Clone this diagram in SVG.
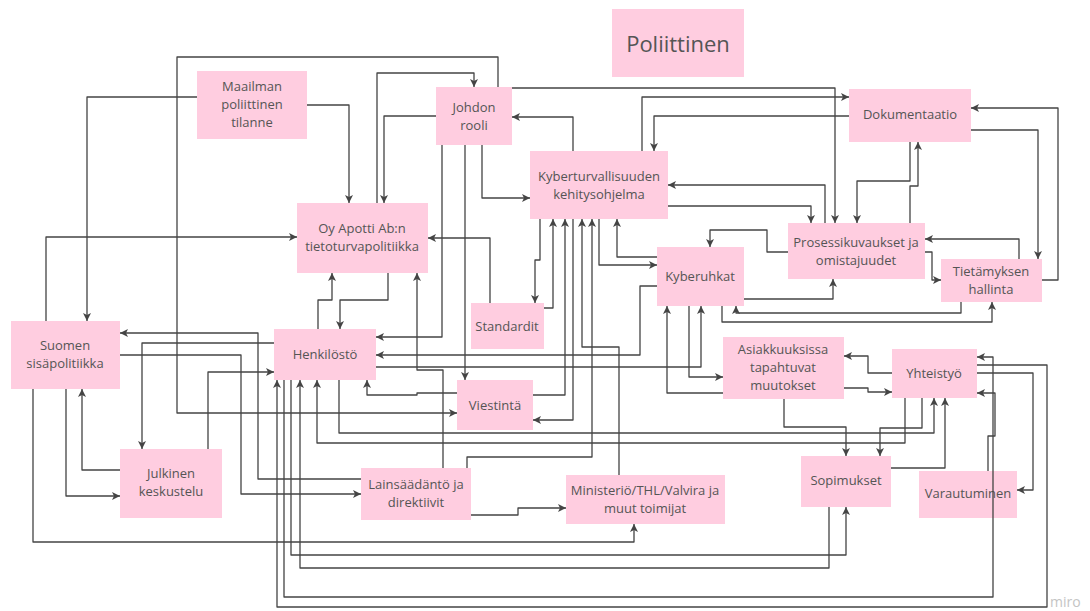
<svg xmlns="http://www.w3.org/2000/svg" width="1090" height="611" viewBox="0 0 1090 611">
  <style>
    .box { fill: #ffcde0; }
    .lbl { font-family: "Open Sans", "Liberation Sans", sans-serif; font-size: 13px; fill: #555; text-anchor: middle; dominant-baseline: central; }
    .title { font-size: 22px; }
    .c { fill: none; stroke: #444; stroke-width: 1.3; stroke-linejoin: round; }
    .a { marker-end: url(#ah); }
    .wm { font-family: "Open Sans", "Liberation Sans", sans-serif; font-size: 14px; fill: #c4c4c4; }
  </style>
  <defs>
    <marker id="ah" viewBox="0 0 10 10" refX="10" refY="5" markerWidth="8" markerHeight="8" markerUnits="userSpaceOnUse" orient="auto">
      <path d="M0,0 L10,5 L0,10 L2.5,5 z" fill="#444"/>
    </marker>
  </defs>
  <rect width="1090" height="611" fill="#ffffff"/>

  <!-- nodes -->
  <g id="poliittinen">
    <rect class="box" x="612" y="9" width="132" height="68"/>
    <text class="lbl title" x="678" y="43">Poliittinen</text>
  </g>
  <g id="maailman">
    <rect class="box" x="197" y="71" width="110" height="68"/>
    <text class="lbl" x="252" y="86">Maailman</text>
    <text class="lbl" x="252" y="104">poliittinen</text>
    <text class="lbl" x="252" y="122">tilanne</text>
  </g>
  <g id="johdon-rooli">
    <rect class="box" x="436" y="87" width="76" height="58"/>
    <text class="lbl" x="474" y="107">Johdon</text>
    <text class="lbl" x="474" y="125">rooli</text>
  </g>
  <g id="kyberturvallisuus">
    <rect class="box" x="530" y="151" width="138" height="68"/>
    <text class="lbl" x="599" y="176">Kyberturvallisuuden</text>
    <text class="lbl" x="599" y="194">kehitysohjelma</text>
  </g>
  <g id="dokumentaatio">
    <rect class="box" x="849" y="89" width="122" height="53"/>
    <text class="lbl" x="910" y="114">Dokumentaatio</text>
  </g>
  <g id="tietoturvapolitiikka">
    <rect class="box" x="297" y="203" width="131" height="70"/>
    <text class="lbl" x="362" y="228">Oy Apotti Ab:n</text>
    <text class="lbl" x="362" y="246">tietoturvapolitiikka</text>
  </g>
  <g id="standardit">
    <rect class="box" x="471" y="303" width="73" height="46"/>
    <text class="lbl" x="507" y="326">Standardit</text>
  </g>
  <g id="henkilosto">
    <rect class="box" x="274" y="329" width="102" height="51"/>
    <text class="lbl" x="325" y="354">Henkilöstö</text>
  </g>
  <g id="viestinta">
    <rect class="box" x="457" y="380" width="76" height="50"/>
    <text class="lbl" x="495" y="405">Viestintä</text>
  </g>
  <g id="kyberuhkat">
    <rect class="box" x="657" y="247" width="87" height="59"/>
    <text class="lbl" x="700" y="276">Kyberuhkat</text>
  </g>
  <g id="prosessikuvaukset">
    <rect class="box" x="788" y="223" width="137" height="56"/>
    <text class="lbl" x="856" y="242">Prosessikuvaukset ja</text>
    <text class="lbl" x="856" y="260">omistajuudet</text>
  </g>
  <g id="tietamyksen-hallinta">
    <rect class="box" x="941" y="259" width="101" height="43"/>
    <text class="lbl" x="991" y="271">Tietämyksen</text>
    <text class="lbl" x="991" y="289">hallinta</text>
  </g>
  <g id="sisapolitiikka">
    <rect class="box" x="11" y="321" width="109" height="68"/>
    <text class="lbl" x="65" y="345">Suomen</text>
    <text class="lbl" x="65" y="363">sisäpolitiikka</text>
  </g>
  <g id="asiakkuudet">
    <rect class="box" x="723" y="337" width="121" height="62"/>
    <text class="lbl" x="783" y="349">Asiakkuuksissa</text>
    <text class="lbl" x="783" y="367">tapahtuvat</text>
    <text class="lbl" x="783" y="385">muutokset</text>
  </g>
  <g id="yhteistyo">
    <rect class="box" x="892" y="349" width="85" height="49"/>
    <text class="lbl" x="934" y="373">Yhteistyö</text>
  </g>
  <g id="julkinen-keskustelu">
    <rect class="box" x="120" y="449" width="102" height="69"/>
    <text class="lbl" x="171" y="473">Julkinen</text>
    <text class="lbl" x="171" y="491">keskustelu</text>
  </g>
  <g id="lainsaadanto">
    <rect class="box" x="361" y="468" width="110" height="52"/>
    <text class="lbl" x="416" y="484">Lainsäädäntö ja</text>
    <text class="lbl" x="416" y="502">direktiivit</text>
  </g>
  <g id="ministerio">
    <rect class="box" x="566" y="475" width="159" height="49"/>
    <text class="lbl" x="645" y="490">Ministeriö/THL/Valvira ja</text>
    <text class="lbl" x="645" y="508">muut toimijat</text>
  </g>
  <g id="sopimukset">
    <rect class="box" x="801" y="456" width="90" height="51"/>
    <text class="lbl" x="846" y="480">Sopimukset</text>
  </g>
  <g id="varautuminen">
    <rect class="box" x="919" y="471" width="98" height="47"/>
    <text class="lbl" x="968" y="493">Varautuminen</text>
  </g>

  <!-- connectors, drawn above the boxes -->
  <g id="connectors">
    <polyline class="c a" points="498,87 498,57 177,57 177,413 457,413"/>
    <polyline class="c a" points="197,97 87,97 87,321"/>
    <polyline class="c a" points="307,105 349,105 349,203"/>
    <polyline class="c a" points="377,203 377,73 474,73 474,87"/>
    <polyline class="c a" points="436,116 384,116 384,203"/>
    <polyline class="c a" points="482,145 482,198 530,198"/>
    <polyline class="c a" points="573,151 573,117 512,117"/>
    <polyline class="c a" points="512,88 835,88 835,223"/>
    <polyline class="c a" points="642,151 642,97 849,97"/>
    <polyline class="c a" points="849,116 654,116 654,151"/>
    <polyline class="c a" points="825,223 825,185 668,185"/>
    <polyline class="c a" points="668,206 811,206 811,223"/>
    <polyline class="c a" points="910,223 910,186 918,186 918,142"/>
    <polyline class="c a" points="910,142 910,181 857,181 857,223"/>
    <polyline class="c a" points="971,130 1038,130 1038,259"/>
    <polyline class="c a" points="1042,280 1058,280 1058,108 971,108"/>
    <polyline class="c a" points="925,252 932,252 932,280 941,280"/>
    <polyline class="c a" points="1019,259 1019,239 925,239"/>
    <polyline class="c a" points="961,302 961,313 736,313 736,306"/>
    <polyline class="c a" points="722,306 722,322 992,322 992,302"/>
    <polyline class="c a" points="744,299 833,299 833,279"/>
    <polyline class="c a" points="788,252 767,252 767,230 710,230 710,247"/>
    <polyline class="c a" points="599,219 599,265 657,265"/>
    <polyline class="c a" points="657,257 617,257 617,219"/>
    <polyline class="c a" points="657,286 640,286 640,355 376,355"/>
    <polyline class="c a" points="442,145 442,337 376,337"/>
    <polyline class="c a" points="465,145 465,380"/>
    <polyline class="c a" points="490,303 490,238 428,238"/>
    <polyline class="c a" points="540,219 540,260 535,260 535,303"/>
    <polyline class="c a" points="544,308 553,308 553,219"/>
    <polyline class="c a" points="533,395 565,395 565,219"/>
    <polyline class="c a" points="573,219 573,420 533,420"/>
    <polyline class="c a" points="619,475 619,347 582,347 582,219"/>
    <polyline class="c a" points="467,468 467,457 592,457 592,219"/>
    <polyline class="c a" points="457,393 417,393 417,395 367,395 367,380"/>
    <polyline class="c a" points="318,329 318,300 332,300 332,273"/>
    <polyline class="c a" points="388,273 388,300 340,300 340,329"/>
    <polyline class="c a" points="443,468 443,370 417,370 417,273"/>
    <polyline class="c a" points="46,321 46,237 297,237"/>
    <polyline class="c a" points="361,479 258,479 258,333 120,333"/>
    <polyline class="c a" points="120,355 241,355 241,494 361,494"/>
    <polyline class="c a" points="274,343 142,343 142,449"/>
    <polyline class="c a" points="208,449 208,372 274,372"/>
    <polyline class="c a" points="66,389 66,496 120,496"/>
    <polyline class="c a" points="120,470 82,470 82,389"/>
    <polyline class="c a" points="33,389 33,542 634,542 634,524"/>
    <polyline class="c a" points="471,515 518,515 518,508 566,508"/>
    <polyline class="c a" points="376,367 701,367 701,306"/>
    <polyline class="c a" points="689,306 689,377 723,377"/>
    <polyline class="c a" points="723,393 667,393 667,306"/>
    <polyline class="c a" points="892,373 868,373 868,356 844,356"/>
    <polyline class="c a" points="844,388 868,388 868,392 892,392"/>
    <polyline class="c a" points="784,399 784,427 846,427 846,456"/>
    <polyline class="c a" points="922,398 922,428 880,428 880,456"/>
    <polyline class="c a" points="339,380 339,433 934,433 934,398"/>
    <polyline class="c a" points="905,398 905,443 317,443 317,380"/>
    <polyline class="c a" points="891,468 945,468 945,398"/>
    <polyline class="c a" points="291,380 291,555 846,555 846,507"/>
    <polyline class="c a" points="829,507 829,568 300,568 300,380"/>
    <polyline class="c a" points="284,380 284,597 993,597 993,357 977,357"/>
    <polyline class="c a" points="977,365 1047,365 1047,607 277,607 277,380"/>
    <polyline class="c a" points="977,373 1033,373 1033,490 1017,490"/>
    <polyline class="c a" points="988,471 988,436 995,436 995,393 977,393"/>
  </g>

  <text class="wm" x="1050" y="607">miro</text>
</svg>
